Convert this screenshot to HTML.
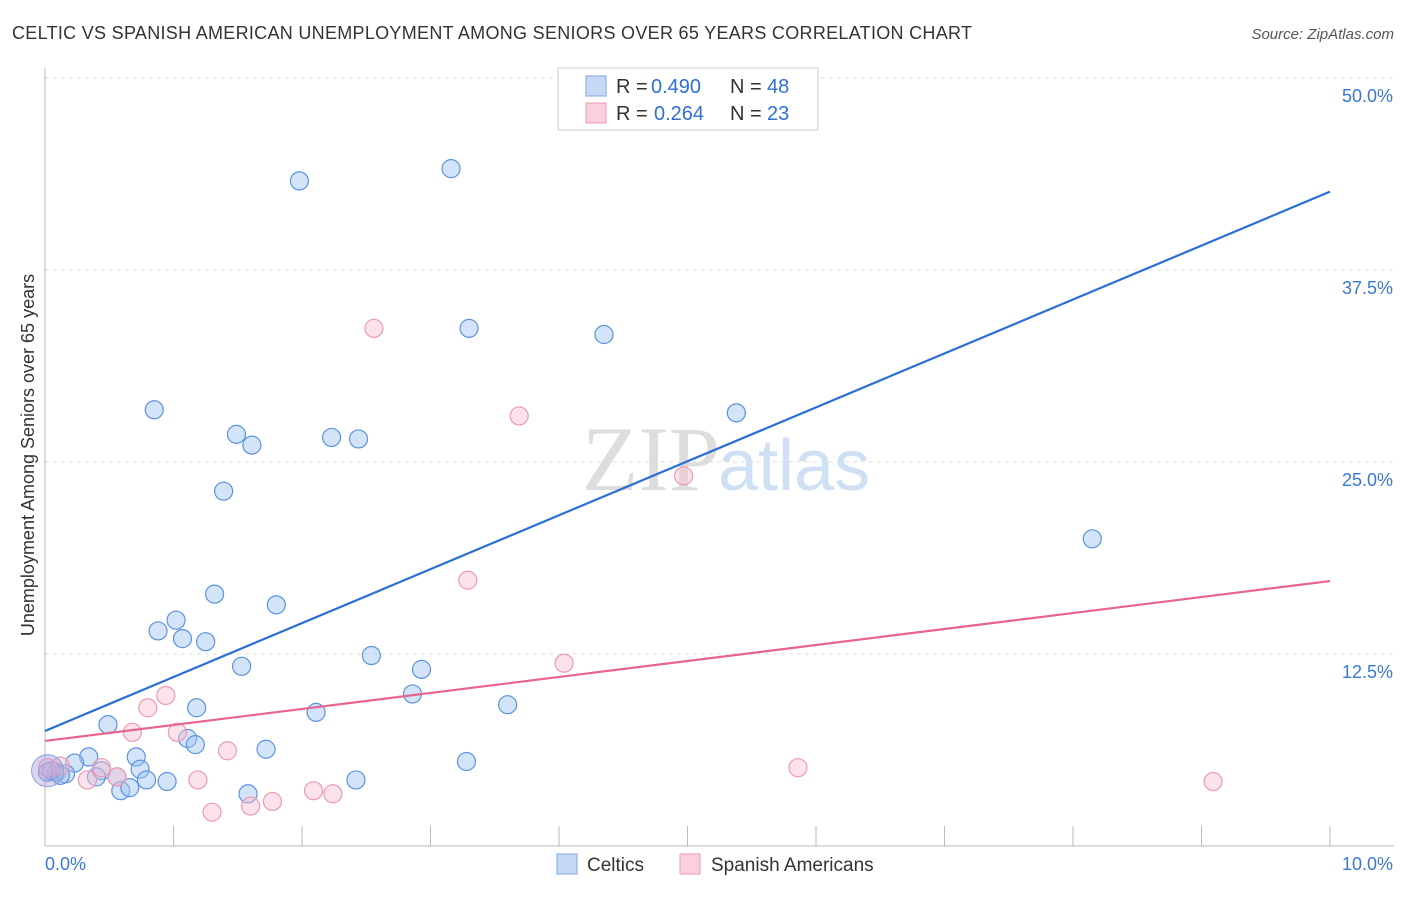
<!DOCTYPE html>
<html><head><meta charset="utf-8"><style>
body{margin:0;background:#fff;font-family:"Liberation Sans",sans-serif}
</style></head><body>
<svg id="c" width="1406" height="892" xmlns="http://www.w3.org/2000/svg">
<text x="12" y="39" font-size="18" fill="#333" textLength="960">CELTIC VS SPANISH AMERICAN UNEMPLOYMENT AMONG SENIORS OVER 65 YEARS CORRELATION CHART</text>
<text x="1394" y="39" font-size="15" fill="#555" text-anchor="end" font-style="italic">Source: ZipAtlas.com</text>
<text x="720" y="490" font-size="92" fill="#ddd" text-anchor="end" font-family="Liberation Serif,serif">ZIP</text>
<text x="718" y="490" font-size="72" fill="#cfe0f5">atlas</text>
<text x="34" y="455" font-size="18" fill="#333" text-anchor="middle" transform="rotate(-90 34 455)">Unemployment Among Seniors over 65 years</text>
<g id="grid"></g><g id="marks"></g>
<g>
<rect x="558" y="68" width="260" height="62" fill="#fff" stroke="#ccc"/>
<rect x="586" y="76" width="20" height="20" fill="#c5d9f5" stroke="#7aa6e6"/>
<text x="616" y="93" font-size="20" fill="#333">R =</text><text x="651" y="93" font-size="20" fill="#2f6fd6">0.490</text>
<text x="730" y="93" font-size="20" fill="#333">N =</text><text x="767" y="93" font-size="20" fill="#2f6fd6">48</text>
<rect x="586" y="103" width="20" height="20" fill="#fbd0dc" stroke="#ee9ab3"/>
<text x="616" y="120" font-size="20" fill="#333">R =</text><text x="654" y="120" font-size="20" fill="#2f6fd6">0.264</text>
<text x="730" y="120" font-size="20" fill="#333">N =</text><text x="767" y="120" font-size="20" fill="#2f6fd6">23</text>
</g>
<g>
<rect x="557" y="854" width="20" height="20" fill="#c5d9f5" stroke="#7aa6e6"/>
<text x="587" y="871" font-size="19" fill="#333">Celtics</text>
<rect x="680" y="854" width="20" height="20" fill="#fbd0dc" stroke="#ee9ab3"/>
<text x="711" y="871" font-size="19" fill="#333">Spanish Americans</text>
</g>
</svg>
<script>
const xTicks=[0,10];
const yTicks=[12.5,25,37.5,50];
const celticsX=[1.98,3.16,3.30,4.35,0.85,5.38,1.49,1.61,2.23,2.44,1.39,8.15,1.32,1.80,1.02,0.88,1.07,1.25,1.53,2.54,2.93,2.86,1.18,2.11,3.60,0.49,1.11,1.17,0.71,1.72,0.34,0.23,0.44,0.74,0.09,0.16,0.56,0.40,0.79,0.95,2.42,3.28,0.59,0.66,1.58,0.02,0.05,0.12];
const celticsY=[43.3,44.1,33.7,33.3,28.4,28.2,26.8,26.1,26.6,26.5,23.1,20.0,16.4,15.7,14.7,14.0,13.5,13.3,11.7,12.4,11.5,9.9,9.0,8.7,9.2,7.9,7.0,6.6,5.8,6.3,5.8,5.4,4.9,5.0,4.8,4.7,4.5,4.5,4.3,4.2,4.3,5.5,3.6,3.8,3.4,4.8,4.9,4.6];
const spanishX=[2.56,3.69,4.97,3.29,4.04,0.94,0.80,0.68,1.03,1.42,1.19,0.44,0.33,0.56,1.30,1.60,1.77,2.09,2.24,5.86,9.09,0.02,0.12];
const spanishY=[33.7,28.0,24.1,17.3,11.9,9.8,9.0,7.4,7.4,6.2,4.3,5.1,4.3,4.5,2.2,2.6,2.9,3.6,3.4,5.1,4.2,5.1,5.2];
const celticsLine=[7.49,42.6];
const spanishLine=[6.84,17.25];
const NS='http://www.w3.org/2000/svg';
const X=v=>45+v/10*1285, Y=v=>846-v/12.5*192;
function mk(t,a,p){const e=document.createElementNS(NS,t);for(const k in a)e.setAttribute(k,a[k]);p.appendChild(e);return e;}
const g=document.getElementById('grid'),m=document.getElementById('marks');
yTicks.forEach(v=>{const l=mk('line',{x1:45,x2:1394,y1:Y(v),y2:Y(v),stroke:'#ddd','stroke-dasharray':'4 4'},g);

const t=mk('text',{x:1393,y:Y(v)+24,'font-size':18,fill:'#3a78d8','text-anchor':'end'},g);t.textContent=v.toFixed(1)+'%';
});
const ax=mk('line',{x1:45,x2:45,y1:68,y2:846,stroke:'#bbb'},g);
const bx=mk('line',{x1:45,x2:1394,y1:846,y2:846,stroke:'#bbb'},g);
for(let i=1;i<=10;i++){const l=mk('line',{x1:X(i),x2:X(i),y1:826,y2:846,stroke:'#bbb'},g);}
xTicks.forEach((v,i)=>{const t=mk('text',{x:i?1393:45,y:870,'font-size':18,fill:'#3a78d8','text-anchor':i?'end':'start'},g);t.textContent=v.toFixed(1)+'%';
});
celticsX.forEach((v,i)=>{const c=mk('circle',{cx:X(v),cy:Y(celticsY[i]),r:9,fill:'rgba(160,195,240,0.45)',stroke:'#5b92e0','stroke-width':1.2},m);
});
spanishX.forEach((v,i)=>{const c=mk('circle',{cx:X(v),cy:Y(spanishY[i]),r:9,fill:'rgba(248,190,208,0.45)',stroke:'#ee9ab3','stroke-width':1.2},m);
});
const big=mk('circle',{cx:X(0.02),cy:Y(4.9),r:16,fill:'rgba(170,160,220,0.45)',stroke:'#8aa0e0'},m);

const l1=mk('line',{x1:X(0),y1:Y(celticsLine[0]),x2:X(10),y2:Y(celticsLine[1]),stroke:'#2a6fd6','stroke-width':2.2},m);

const l2=mk('line',{x1:X(0),y1:Y(spanishLine[0]),x2:X(10),y2:Y(spanishLine[1]),stroke:'#e8648e','stroke-width':2.2},m);

</script>
</body></html>
